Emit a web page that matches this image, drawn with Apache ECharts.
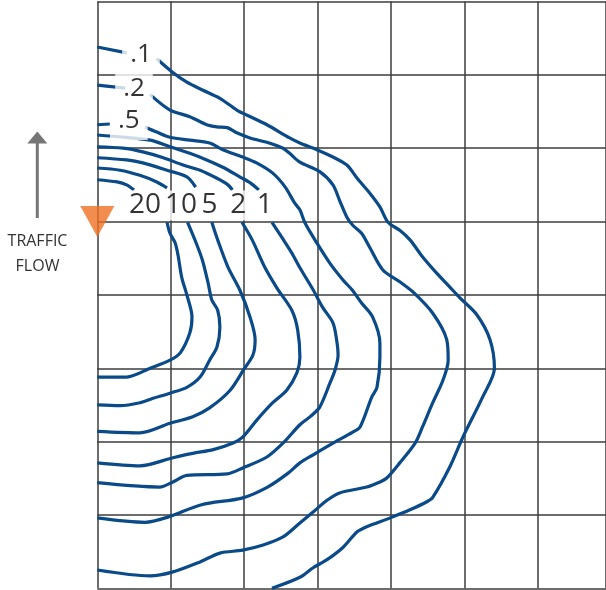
<!DOCTYPE html>
<html>
<head>
<meta charset="utf-8">
<script src="https://cdn.jsdelivr.net/npm/echarts@6/dist/echarts.min.js"></script>
<style>
html,body{margin:0;padding:0;background:#fff;}
#chart{width:606px;height:590px;}
</style>
</head>
<body>
<div id="chart"></div>
<script>
// Distances in grid-cell units (x: downstream/right, y: down from top edge)
const c01a = [[0,0.62],[0.40,0.70]];
const c01b = [[0.81,0.78],[1.02,0.96],[1.22,1.10],[1.44,1.21],[1.67,1.32],[1.90,1.48],[2.04,1.55],[2.31,1.68],[2.62,1.86],[2.76,1.93],[2.99,2.02],[3.21,2.12],[3.40,2.23],[3.54,2.41],[3.71,2.61],[3.85,2.80],[3.96,3.01],[4.12,3.12],[4.26,3.25],[4.43,3.48],[4.62,3.70],[4.80,3.89],[4.94,4.04],[5.17,4.27],[5.35,4.61],[5.41,5.00],[5.25,5.39],[4.98,5.94],[4.80,6.35],[4.57,6.76],[4.49,6.82],[4.26,6.93],[3.99,7.04],[3.67,7.16],[3.54,7.23],[3.35,7.44],[3.13,7.61],[2.94,7.72],[2.76,7.85],[2.38,8.0]];
const c02a = [[0,1.14],[0.38,1.18]];
const c02b = [[0.72,1.27],[0.99,1.48],[1.26,1.57],[1.49,1.68],[1.63,1.71],[1.77,1.72],[1.90,1.79],[2.08,1.86],[2.31,1.92],[2.53,2.00],[2.62,2.07],[2.76,2.19],[3.03,2.32],[3.21,2.50],[3.30,2.71],[3.40,2.94],[3.48,3.05],[3.60,3.16],[3.71,3.35],[3.89,3.66],[4.12,3.82],[4.30,3.96],[4.57,4.25],[4.76,4.61],[4.78,4.89],[4.71,5.16],[4.57,5.47],[4.43,5.80],[4.33,6.02],[4.12,6.29],[3.94,6.50],[3.85,6.55],[3.67,6.62],[3.30,6.70],[3.13,6.80],[2.94,6.96],[2.76,7.11],[2.53,7.30],[2.26,7.41],[1.98,7.48],[1.67,7.52],[1.40,7.64],[1.02,7.78],[0.72,7.83],[0,7.75]];
const c05a = [[0,1.68],[0.17,1.67]];
const c05b = [[0.65,1.71],[0.81,1.78],[0.99,1.85],[1.26,1.89],[1.53,1.93],[1.71,2.02],[1.98,2.12],[2.17,2.20],[2.39,2.34],[2.56,2.53],[2.69,2.75],[2.76,2.84],[2.83,3.02],[2.99,3.29],[3.17,3.57],[3.35,3.80],[3.47,3.93],[3.60,4.11],[3.75,4.30],[3.85,4.66],[3.85,4.85],[3.81,5.26],[3.74,5.39],[3.58,5.80],[3.48,5.87],[3.21,6.02],[2.94,6.18],[2.76,6.29],[2.60,6.43],[2.32,6.62],[1.97,6.77],[1.42,6.86],[0.96,7.03],[0.65,7.10],[0,7.04]];
const c1a = [[0,1.82],[0.35,1.85],[0.72,1.89],[0.99,1.98],[1.26,2.07],[1.49,2.16],[1.71,2.26],[1.94,2.39],[2.08,2.47],[2.20,2.57]];
const c1b = [[2.38,3.01],[2.51,3.21],[2.65,3.43],[2.76,3.63],[2.94,3.93],[3.07,4.17],[3.21,4.38],[3.26,4.61],[3.28,4.82],[3.24,5.02],[3.17,5.20],[3.03,5.53],[2.90,5.66],[2.76,5.77],[2.53,6.02],[2.31,6.21],[1.98,6.36],[1.77,6.44],[1.22,6.46],[1.03,6.55],[0.85,6.62],[0,6.56]];
const c2a = [[0,1.98],[0.35,2.00],[0.62,2.05],[0.90,2.13],[1.17,2.23],[1.40,2.30],[1.63,2.41],[1.78,2.50],[1.84,2.57]];
const c2b = [[1.97,3.01],[2.11,3.25],[2.28,3.62],[2.45,3.91],[2.65,4.21],[2.73,4.48],[2.76,4.85],[2.72,5.06],[2.58,5.30],[2.39,5.47],[2.17,5.71],[1.98,5.94],[1.85,6.02],[1.58,6.11],[1.30,6.16],[1.03,6.22],[0.58,6.33],[0,6.29]];
const c5a = [[0,2.13],[0.40,2.16],[0.62,2.20],[0.95,2.30],[1.22,2.39],[1.34,2.53]];
const c5b = [[1.56,3.01],[1.64,3.25],[1.78,3.62],[1.94,3.93],[2.08,4.30],[2.15,4.61],[2.12,4.82],[2.00,5.01],[1.81,5.30],[1.53,5.54],[1.30,5.66],[0.99,5.75],[0.58,5.88],[0,5.86]];
const c10a = [[0,2.27],[0.31,2.30],[0.58,2.37],[0.81,2.46],[0.95,2.54]];
const c10b = [[1.23,3.01],[1.33,3.25],[1.43,3.52],[1.51,3.84],[1.56,4.07],[1.64,4.21],[1.67,4.44],[1.63,4.71],[1.53,4.89],[1.40,5.12],[1.22,5.26],[0.99,5.34],[0.76,5.41],[0.58,5.47],[0.31,5.51],[0,5.50]];
const c20a = [[0,2.43],[0.27,2.46],[0.40,2.50],[0.50,2.57]];
const c20b = [[0.95,3.01],[0.99,3.16],[1.06,3.29],[1.10,3.46],[1.15,3.76],[1.22,4.00],[1.29,4.30],[1.26,4.52],[1.13,4.79],[0.99,4.89],[0.72,5.00],[0.40,5.12],[0,5.12]];

const labelText = ['.1','.2','.5','20','10','5','2','1'];
const labelAt = [[0.595,0.72],[0.50,1.19],[0.43,1.63],[0.65,2.78],[1.14,2.78],[1.53,2.78],[1.92,2.78],[2.28,2.78]];
const sourcePoint = [0,3];

const segments = [c01a,c01b,c02a,c02b,c05a,c05b,c1a,c1b,c2a,c2b,c5a,c5b,c10a,c10b,c20a,c20b];

const BLUE = '#0a4a88';
const GRID = '#3c3c3c';

const chart = echarts.init(document.getElementById('chart'), null, {renderer:'canvas'});

const lineSeries = segments.map(seg => ({
  type:'line', data:seg, symbol:'none', smooth:0.3, silent:true, z:3,
  lineStyle:{color:BLUE, width:3.2}, clip:true
}));

const labelData = labelText.map((t,i) => {
  const dec = t.startsWith('.');
  return {
    name:t, value:labelAt[i],
    label:{
      fontSize: dec ? 26 : 28,
      padding: dec ? [4,8,4,8] : [1,4,1,4],
      lineHeight: dec ? 30 : 28
    }
  };
});

const option = {
  animation:false,
  backgroundColor:'#fff',
  grid:{left:97.3, top:1.5, width:509, height:586.8, containLabel:false},
  xAxis:{type:'value', min:0, max:6.93, interval:1,
    axisLine:{show:false}, axisTick:{show:false}, axisLabel:{show:false},
    splitLine:{show:true, lineStyle:{color:GRID, width:1.5}}},
  yAxis:{type:'value', min:0, max:8, interval:1, inverse:true,
    axisLine:{show:false}, axisTick:{show:false}, axisLabel:{show:false},
    splitLine:{show:true, lineStyle:{color:GRID, width:1.5}}},
  series: lineSeries.concat([
    {type:'scatter', data:labelData, symbolSize:1, silent:true, z:10,
      itemStyle:{color:'rgba(0,0,0,0)'},
      label:{show:true, position:'inside', formatter:'{b}', color:'#000',
        fontFamily:'"Open Sans", sans-serif', backgroundColor:'#fff'}},
    {type:'scatter', data:[sourcePoint], symbol:'triangle', symbolRotate:180,
      symbolSize:[34,31], silent:true, z:11, itemStyle:{color:'#f07023'}}
  ]),
  graphic:[
    {type:'line', shape:{x1:37.3, y1:218, x2:37.3, y2:141}, style:{stroke:'#767676', lineWidth:3}},
    {type:'polygon', shape:{points:[[37.3,131.5],[27.3,143.5],[47.3,143.5]]}, style:{fill:'#767676'}},
    {type:'text', x:37.5, y:254, style:{text:'TRAFFIC\nFLOW', align:'center', verticalAlign:'middle',
      fontSize:16, fontFamily:'"Open Sans", sans-serif', lineHeight:25, fill:'#333'}}
  ]
};
chart.setOption(option);
</script>
</body>
</html>
